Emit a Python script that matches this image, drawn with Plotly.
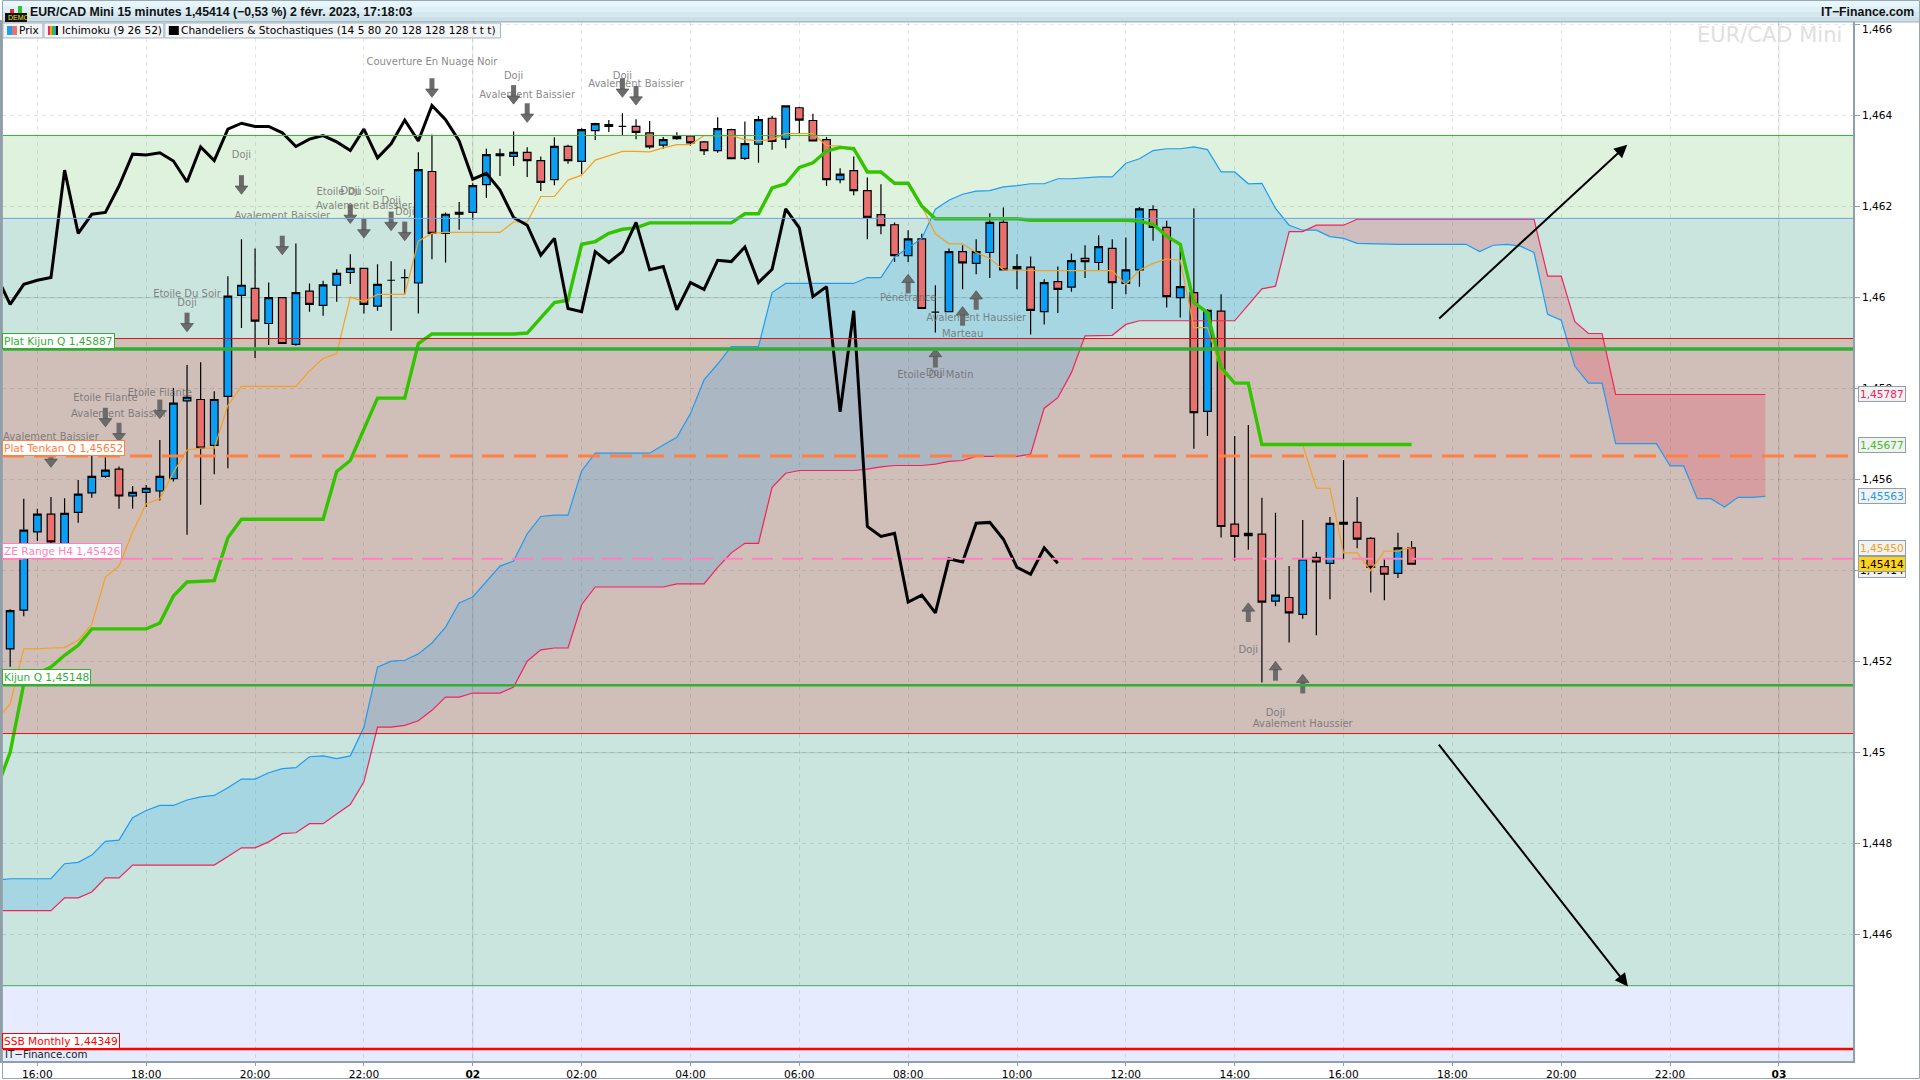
import pandas as pd
import plotly.graph_objects as go

# ---- bar clock: k = 0 is 1 Feb 16:00, one step = 15 minutes
start_time = pd.Timestamp("2023-02-01 16:00")
def t(k):
    return (start_time + pd.Timedelta(minutes=15 * k)).strftime("%Y-%m-%d %H:%M:%S")

# ---- candles, from 15:30 (k=-2) to 17:15 (k=101)
open_px = [1.45228,1.45313,1.45485,1.45524,1.45459,1.45528,1.45571,1.45607,1.45623,1.45564,1.45572,1.45575,1.45602,1.45773,1.45776,1.45675,
1.45783,1.46005,1.46020,1.45943,1.46000,1.45897,1.46014,1.45983,1.46027,1.46055,1.46064,1.45981,1.46038,1.46044,1.46032,1.46277,
1.46141,1.46183,1.46187,1.46248,1.46316,1.46310,1.46319,1.46301,1.46259,1.46332,1.46299,1.46367,1.46380,1.46376,1.46376,1.46362,
1.46335,1.46349,1.46355,1.46342,1.46323,1.46369,1.46306,1.46337,1.46394,1.46348,1.46417,1.46389,1.46347,1.46259,1.46279,1.46235,
1.46182,1.46160,1.46092,1.46129,1.45968,1.45969,1.46101,1.46075,1.46099,1.46165,1.46063,1.46067,1.45969,1.46035,1.46023,1.46086,
1.46077,1.46108,1.46031,1.46061,1.46193,1.46154,1.46000,1.46011,1.45750,1.45970,1.45502,1.45477,1.45480,1.45333,1.45341,1.45304,
1.45429,1.45416,1.45502,1.45506,1.45471,1.45409,1.45394,1.45450]
close_px = [1.45312,1.45489,1.45524,1.45463,1.45526,1.45568,1.45607,1.45621,1.45564,1.45572,1.45581,1.45607,1.45768,1.45781,1.45669,1.45776,
1.46003,1.46027,1.45948,1.46000,1.45899,1.46011,1.45985,1.46028,1.46053,1.46064,1.45985,1.46029,1.46038,1.46044,1.46281,1.46141,
1.46183,1.46187,1.46246,1.46314,1.46312,1.46319,1.46301,1.46253,1.46332,1.46301,1.46369,1.46382,1.46376,1.46376,1.46363,1.46331,
1.46347,1.46354,1.46340,1.46323,1.46371,1.46305,1.46338,1.46391,1.46343,1.46421,1.46390,1.46344,1.46259,1.46271,1.46235,1.46176,
1.46158,1.46092,1.46129,1.45976,1.45968,1.46101,1.46076,1.46101,1.46165,1.46061,1.46068,1.45972,1.46033,1.46018,1.46081,1.46079,
1.46112,1.46033,1.46061,1.46195,1.46154,1.46002,1.46024,1.45747,1.45972,1.45497,1.45475,1.45482,1.45331,1.45346,1.45307,1.45426,
1.45419,1.45504,1.45506,1.45469,1.45407,1.45392,1.45450,1.45414]
high_px = [1.45315,1.45558,1.45536,1.45562,1.45559,1.45599,1.45652,1.45649,1.45629,1.45586,1.45588,1.45687,1.45801,1.45852,1.45858,1.45794,
1.46047,1.46128,1.46108,1.46033,1.46000,1.46119,1.46031,1.46037,1.46062,1.46095,1.46064,1.46073,1.46080,1.46062,1.46319,1.46358,
1.46187,1.46210,1.46251,1.46327,1.46327,1.46365,1.46330,1.46310,1.46352,1.46336,1.46372,1.46384,1.46390,1.46405,1.46392,1.46388,
1.46353,1.46363,1.46357,1.46344,1.46396,1.46371,1.46387,1.46399,1.46399,1.46422,1.46419,1.46404,1.46353,1.46284,1.46310,1.46264,
1.46249,1.46165,1.46148,1.46140,1.46027,1.46108,1.46115,1.46128,1.46185,1.46198,1.46095,1.46090,1.46040,1.46068,1.46097,1.46115,
1.46137,1.46128,1.46132,1.46199,1.46203,1.46169,1.46110,1.46196,1.45975,1.46007,1.45696,1.45720,1.45560,1.45527,1.45410,1.45511,
1.45441,1.45518,1.45643,1.45562,1.45474,1.45426,1.45483,1.45465]
low_px = [1.45189,1.45300,1.45465,1.45455,1.45450,1.45505,1.45560,1.45604,1.45536,1.45536,1.45540,1.45554,1.45596,1.45479,1.45545,1.45612,
1.45625,1.45933,1.45867,1.45896,1.45899,1.45894,1.45969,1.45960,1.45991,1.46030,1.45965,1.45971,1.45927,1.46008,1.45965,1.46084,
1.46077,1.46149,1.46171,1.46219,1.46267,1.46289,1.46265,1.46234,1.46247,1.46294,1.46271,1.46346,1.46364,1.46357,1.46348,1.46327,
1.46327,1.46347,1.46334,1.46313,1.46318,1.46305,1.46302,1.46296,1.46325,1.46328,1.46361,1.46344,1.46245,1.46251,1.46225,1.46128,
1.46139,1.46078,1.46078,1.45976,1.45923,1.45969,1.46018,1.46051,1.46043,1.46061,1.46018,1.45919,1.45941,1.45966,1.46013,1.46043,
1.46059,1.45975,1.46007,1.46024,1.46125,1.45978,1.45956,1.45668,1.45696,1.45473,1.45422,1.45446,1.45154,1.45322,1.45242,1.45294,
1.45258,1.45337,1.45426,1.45449,1.45352,1.45335,1.45384,1.45413]

# ---- Ichimoku, all starting at k=-3
tenkan = [1.45072,1.45107,1.45228,1.45228,1.45230,1.45231,1.45247,1.45282,1.45386,1.45410,1.45485,1.45547,1.45558,1.45616,1.45665,1.45669,
1.45669,1.45763,1.45805,1.45805,1.45805,1.45805,1.45805,1.45839,1.45866,1.45877,1.46001,1.45991,1.46007,1.46007,1.46007,1.46124,
1.46141,1.46143,1.46143,1.46143,1.46143,1.46143,1.46166,1.46166,1.46222,1.46222,1.46258,1.46269,1.46302,1.46311,1.46321,1.46321,
1.46320,1.46329,1.46336,1.46336,1.46356,1.46356,1.46356,1.46347,1.46345,1.46347,1.46360,1.46360,1.46360,1.46334,1.46333,1.46327,
1.46278,1.46276,1.46251,1.46251,1.46201,1.46140,1.46118,1.46118,1.46099,1.46086,1.46061,1.46060,1.46059,1.46059,1.46059,1.46059,
1.46059,1.46059,1.46059,1.46029,1.46060,1.46075,1.46085,1.46082,1.45934,1.45934,1.45839,1.45812,1.45812,1.45677,1.45677,1.45677,
1.45677,1.45581,1.45581,1.45439,1.45439,1.45400,1.45443,1.45443,1.45451]
kijun = [1.44920,1.45001,1.45151,1.45174,1.45188,1.45214,1.45236,1.45272,1.45272,1.45272,1.45272,1.45272,1.45285,1.45344,1.45375,1.45377,
1.45378,1.45472,1.45513,1.45513,1.45513,1.45513,1.45513,1.45513,1.45513,1.45618,1.45642,1.45711,1.45779,1.45779,1.45779,1.45899,
1.45920,1.45920,1.45920,1.45920,1.45920,1.45920,1.45920,1.45922,1.45956,1.45989,1.45994,1.46117,1.46123,1.46141,1.46150,1.46153,
1.46164,1.46164,1.46164,1.46164,1.46164,1.46164,1.46164,1.46184,1.46184,1.46241,1.46250,1.46286,1.46296,1.46322,1.46330,1.46327,
1.46276,1.46276,1.46251,1.46251,1.46201,1.46173,1.46173,1.46173,1.46173,1.46173,1.46173,1.46173,1.46170,1.46170,1.46170,1.46170,
1.46170,1.46170,1.46170,1.46170,1.46168,1.46161,1.46135,1.46117,1.45989,1.45967,1.45846,1.45812,1.45812,1.45677,1.45677,1.45677,
1.45677,1.45677,1.45677,1.45677,1.45677,1.45677,1.45677,1.45677,1.45677]
chikou = [1.46048,1.45985,1.46029,1.46038,1.46044,1.46280,1.46141,1.46183,1.46187,1.46245,1.46315,1.46313,1.46318,1.46300,1.46254,1.46331,
1.46301,1.46370,1.46383,1.46376,1.46376,1.46362,1.46332,1.46348,1.46356,1.46342,1.46323,1.46370,1.46307,1.46338,1.46390,1.46344,
1.46422,1.46391,1.46344,1.46260,1.46273,1.46236,1.46176,1.46159,1.46093,1.46130,1.45976,1.45969,1.46101,1.46077,1.46101,1.46165,
1.46061,1.46068,1.45973,1.46033,1.46018,1.46082,1.46079,1.46111,1.46033,1.46062,1.46195,1.46153,1.46002,1.46024,1.45749,1.45971,
1.45497,1.45475,1.45482,1.45331,1.45346,1.45307,1.45426,1.45419,1.45504,1.45506,1.45469,1.45407,1.45392,1.45450,1.45416]
senkou_a = [1.44720,1.44723,1.44723,1.44723,1.44723,1.44756,1.44759,1.44775,1.44805,1.44808,1.44857,1.44873,1.44884,1.44884,1.44896,1.44903,
1.44906,1.44923,1.44942,1.44942,1.44956,1.44965,1.44967,1.44991,1.44993,1.44987,1.44993,1.45056,1.45188,1.45201,1.45203,1.45217,
1.45241,1.45276,1.45329,1.45342,1.45376,1.45410,1.45421,1.45481,1.45519,1.45522,1.45522,1.45619,1.45658,1.45658,1.45658,1.45658,
1.45658,1.45676,1.45693,1.45745,1.45819,1.45854,1.45892,1.45892,1.45892,1.46011,1.46031,1.46031,1.46031,1.46031,1.46031,1.46031,
1.46044,1.46044,1.46089,1.46110,1.46130,1.46194,1.46214,1.46227,1.46234,1.46235,1.46243,1.46246,1.46250,1.46250,1.46261,1.46261,
1.46263,1.46265,1.46265,1.46295,1.46305,1.46323,1.46327,1.46327,1.46331,1.46325,1.46276,1.46276,1.46250,1.46251,1.46196,1.46159,
1.46148,1.46148,1.46134,1.46130,1.46119,1.46118,1.46117,1.46117,1.46117,1.46117,1.46117,1.46117,1.46117,1.46101,1.46115,1.46117,
1.46113,1.46099,1.45963,1.45950,1.45849,1.45812,1.45812,1.45679,1.45679,1.45679,1.45679,1.45630,1.45630,1.45558,1.45558,1.45540,
1.45561,1.45561,1.45563]
senkou_b = [1.44653,1.44653,1.44653,1.44653,1.44653,1.44681,1.44681,1.44694,1.44725,1.44725,1.44753,1.44753,1.44753,1.44753,1.44753,1.44753,
1.44753,1.44772,1.44791,1.44791,1.44804,1.44822,1.44824,1.44844,1.44844,1.44865,1.44886,1.44936,1.45056,1.45056,1.45060,1.45070,
1.45093,1.45122,1.45122,1.45131,1.45131,1.45131,1.45144,1.45201,1.45226,1.45230,1.45230,1.45325,1.45364,1.45364,1.45364,1.45364,
1.45364,1.45364,1.45371,1.45371,1.45371,1.45407,1.45439,1.45460,1.45460,1.45583,1.45614,1.45620,1.45620,1.45620,1.45620,1.45620,
1.45623,1.45628,1.45631,1.45631,1.45631,1.45634,1.45640,1.45642,1.45651,1.45651,1.45651,1.45651,1.45656,1.45757,1.45780,1.45835,
1.45916,1.45917,1.45917,1.45941,1.45949,1.45949,1.45949,1.45949,1.45949,1.45949,1.45949,1.45949,1.45984,1.46019,1.46025,1.46145,
1.46145,1.46159,1.46159,1.46159,1.46172,1.46172,1.46172,1.46172,1.46172,1.46172,1.46172,1.46172,1.46172,1.46172,1.46172,1.46172,
1.46172,1.46172,1.46047,1.46047,1.45947,1.45921,1.45921,1.45787,1.45787,1.45787,1.45787,1.45787,1.45787,1.45787,1.45787,1.45787,
1.45787,1.45787,1.45787]
assert len(open_px) == len(close_px) == len(high_px) == len(low_px) == 104
assert len(tenkan) == len(kijun) == 105 and len(chikou) == 79
assert len(senkou_a) == len(senkou_b) == 131
kumo_turn_k = 93

# ---- levels
zone_edges = [1.46356, 1.46174, 1.45910, 1.45042, 1.44488, 1.44300]
zone_colors = ["#DFF2DE", "#C9E5DE", "#D0BFB9", "#C9E5DE", "#E6ECFE"]
level_values = [1.46356, 1.46174, 1.45910, 1.45042, 1.44488, 1.45887, 1.45652, 1.45426, 1.45148, 1.44349]
level_colors = ["#2FBB2F", "#6E9FEA", "#E01018", "#E01018", "#45A85A", "#33AE33", "#FF8040", "#FF80C0", "#33AE33", "#FF0000"]
level_widths = [1, 1, 1, 1, 1, 3.4, 3, 2, 2.5, 2.5]
level_dashes = ["solid", "solid", "solid", "solid", "solid", "solid", "22px,10px", "21px,9px", "solid", "solid"]

label_texts = ["Plat Kijun Q 1,45887", "Plat Tenkan Q 1,45652", "ZE Range H4 1,45426", "Kijun Q 1,45148", "SSB Monthly 1,44349"]
label_values = [1.45887, 1.45652, 1.45426, 1.45148, 1.44349]
label_colors = ["#33AE33", "#FF8040", "#FF80C0", "#33AE33", "#FF0000"]

tag_texts = ["1,45787", "1,45677", "1,45563", "1,45450", "1,45414"]
tag_values = [1.45787, 1.45677, 1.45563, 1.45450, 1.45414]
tag_colors = ["#F0245A", "#3CC31E", "#1E9CF0", "#F5A020", "#000000"]

# ---- candle pattern notes
note_texts = ["Couverture En Nuage Noir", "Doji", "Avalement Baissier", "Doji", "Avalement Baissier", "Doji", "Avalement Baissier",
              "Etoile Du Soir", "Doji", "Avalement Baissier", "Doji", "Doji", "Etoile Du Soir", "Doji", "Etoile Filante",
              "Avalement Baissier", "Etoile Filante", "Avalement Baissier", "Pénétrance", "Doji", "Etoile Du Matin", "Marteau",
              "Avalement Haussier", "Doji", "Doji", "Avalement Haussier"]
note_k = [29, 35, 36, 43, 44, 15, 18, 23, 23, 24, 26, 27, 11, 11, 5, 6, 9, 1, 64, 66, 66, 68, 69, 89, 91, 93]
note_values = [1.46516, 1.46486, 1.46444, 1.46486, 1.46468, 1.46311, 1.46177, 1.46230, 1.46233, 1.46199, 1.46210, 1.46187, 1.46006, 1.45987,
               1.45778, 1.45742, 1.45789, 1.45692, 1.45997, 1.45833, 1.45828, 1.45919, 1.45955, 1.45224, 1.45086, 1.45061]
down_k = [29, 35, 36, 43, 44, 15, 18, 23, 24, 26, 27, 11, 5, 6, 9, 1]
down_values = [1.46460, 1.46445, 1.46405, 1.46460, 1.46443, 1.46247, 1.46114, 1.46183, 1.46151, 1.46167, 1.46145, 1.45945, 1.45736, 1.45703, 1.45754, 1.45647]
up_k = [64, 66, 68, 69, 89, 91, 93]
up_values = [1.46031, 1.45868, 1.45960, 1.45995, 1.45309, 1.45180, 1.45152]
arrow_part_offset = 0.00008

# ---- trend arrows
arrow_start_k = [102.92, 102.92]
arrow_start_v = [1.45951, 1.45021]
arrow_end_k = [116.85, 116.9]
arrow_end_v = [1.46336, 1.44486]

# ---- axis labels
y_ticks = [1.466, 1.464, 1.462, 1.46, 1.458, 1.456, 1.454, 1.452, 1.45, 1.448, 1.446]
y_tick_text = ["", "1,464", "1,462", "1,46", "1,458", "1,456", "1,454", "1,452", "1,45", "1,448", "1,446"]
x_tick_k = [0, 8, 16, 24, 32, 40, 48, 56, 64, 72, 80, 88, 96, 104, 112, 120, 128]
x_tick_text = ["16:00", "18:00", "20:00", "22:00", "<b>02</b>", "02:00", "04:00", "06:00", "08:00", "10:00", "12:00",
               "14:00", "16:00", "18:00", "20:00", "22:00", "<b>03</b>"]
major_y = [1.46, 1.45]
major_x_k = [32, 128]

W, H = 1920.0, 1080.0
PLOT_R, PLOT_T, PLOT_B = 1853.0, 22.0, 1062.0
y_range = [1.443225, 1.466055]
x_range = [t(-2.6), t(133.45)]
def px(x): return x / W
def py(y): return 1 - y / H
FONT = "DejaVu Sans"

line_k = list(range(-3, 128))
kt = [t(k) for k in line_k]
kt_candle = kt[1:105]

fig = go.Figure()

# kumo fill (lower subplot, so candles sit on top)
cut = kumo_turn_k + 3
fig.add_trace(go.Scatter(x=kt[:cut + 1], y=senkou_b[:cut + 1], mode="lines", line=dict(width=0), hoverinfo="skip", xaxis="x", yaxis="y"))
fig.add_trace(go.Scatter(x=kt[:cut + 1], y=senkou_a[:cut + 1], mode="lines", line=dict(width=0), fill="tonexty",
                         fillcolor="rgba(30,156,240,0.2)", hoverinfo="skip", xaxis="x", yaxis="y"))
fig.add_trace(go.Scatter(x=kt[cut:], y=senkou_a[cut:], mode="lines", line=dict(width=0), hoverinfo="skip", xaxis="x", yaxis="y"))
fig.add_trace(go.Scatter(x=kt[cut:], y=senkou_b[cut:], mode="lines", line=dict(width=0), fill="tonexty",
                         fillcolor="rgba(240,30,60,0.2)", hoverinfo="skip", xaxis="x", yaxis="y"))

# kumo edges then candles and lines on the overlay subplot
fig.add_trace(go.Candlestick(x=kt_candle, open=open_px, high=high_px, low=low_px, close=close_px,
                             increasing=dict(fillcolor="#0A9EF5", line=dict(color="#000000", width=1.2)),
                             decreasing=dict(fillcolor="#E8706E", line=dict(color="#000000", width=1.2)),
                             whiskerwidth=0, xaxis="x", yaxis="y2", hoverinfo="skip"))
fig.add_trace(go.Scatter(x=kt, y=senkou_a, mode="lines", line=dict(color="#1E9CF0", width=1.2), xaxis="x", yaxis="y2", hoverinfo="skip"))
fig.add_trace(go.Scatter(x=kt, y=senkou_b, mode="lines", line=dict(color="#F0245A", width=1.2), xaxis="x", yaxis="y2", hoverinfo="skip"))
fig.add_trace(go.Scatter(x=kt[:105], y=tenkan, mode="lines", line=dict(color="#F5A020", width=1.2), xaxis="x", yaxis="y2", hoverinfo="skip"))
fig.add_trace(go.Scatter(x=kt[:105], y=kijun, mode="lines", line=dict(color="#33C400", width=3.4), xaxis="x", yaxis="y2", hoverinfo="skip"))
fig.add_trace(go.Scatter(x=kt[:79], y=chikou, mode="lines", line=dict(color="#000000", width=3), xaxis="x", yaxis="y2", hoverinfo="skip"))

# pattern notes and block arrows (stem plus head)
fig.add_trace(go.Scatter(x=[t(k) for k in note_k], y=note_values, mode="text", text=note_texts,
                         textfont=dict(family=FONT, size=10, color="rgba(105,105,105,0.8)"), xaxis="x", yaxis="y2", hoverinfo="skip"))
fig.add_trace(go.Scatter(x=[t(k) for k in down_k], y=[v + arrow_part_offset for v in down_values], mode="markers",
                         marker=dict(symbol="line-ns", size=9, line=dict(color="#6B6B6B", width=5)), xaxis="x", yaxis="y2", hoverinfo="skip"))
fig.add_trace(go.Scatter(x=[t(k) for k in down_k], y=[v - arrow_part_offset for v in down_values], mode="markers",
                         marker=dict(symbol="triangle-down", size=11, color="#6B6B6B", line=dict(color="#505050", width=0.7)), xaxis="x", yaxis="y2", hoverinfo="skip"))
fig.add_trace(go.Scatter(x=[t(k) for k in up_k], y=[v - arrow_part_offset for v in up_values], mode="markers",
                         marker=dict(symbol="line-ns", size=9, line=dict(color="#6B6B6B", width=5)), xaxis="x", yaxis="y2", hoverinfo="skip"))
fig.add_trace(go.Scatter(x=[t(k) for k in up_k], y=[v + arrow_part_offset for v in up_values], mode="markers",
                         marker=dict(symbol="triangle-up", size=11, color="#6B6B6B", line=dict(color="#505050", width=0.7)), xaxis="x", yaxis="y2", hoverinfo="skip"))

shapes = []
# zones
for i, c in enumerate(zone_colors):
    shapes.append(dict(type="rect", xref="paper", yref="y", x0=0, x1=px(PLOT_R), y0=zone_edges[i + 1], y1=zone_edges[i],
                       fillcolor=c, line=dict(width=0), layer="below"))
# solid major grid
for v in major_y:
    shapes.append(dict(type="line", xref="paper", yref="y", x0=0, x1=px(PLOT_R), y0=v, y1=v,
                       line=dict(color="rgba(0,0,0,0.10)", width=1.2), layer="between"))
for k in major_x_k:
    shapes.append(dict(type="line", xref="x", yref="paper", x0=t(k), x1=t(k), y0=py(PLOT_B), y1=py(PLOT_T),
                       line=dict(color="rgba(0,0,0,0.10)", width=1.2), layer="between"))
# levels
for v, c, w, d in zip(level_values, level_colors, level_widths, level_dashes):
    shapes.append(dict(type="line", xref="paper", yref="y", x0=0, x1=px(PLOT_R), y0=v, y1=v,
                       line=dict(color=c, width=w, dash=d), layer="above"))
# header bands
bands = ["#E6F6FC", "#DDF0F7", "#D4E7EF", "#CBDFE8"]
for i, c in enumerate(bands):
    shapes.append(dict(type="rect", xref="paper", yref="paper", x0=0, x1=1, y0=py(1 + (i + 1) * 5.2), y1=py(1 + i * 5.2),
                       fillcolor=c, line=dict(width=0), layer="above"))
shapes.append(dict(type="line", xref="paper", yref="paper", x0=0, x1=1, y0=py(22), y1=py(22), line=dict(color="#9AAAB4", width=1), layer="above"))
shapes.append(dict(type="rect", xref="paper", yref="paper", x0=px(0.5), x1=px(1919.5), y0=py(1079.5), y1=py(0.5), line=dict(color="#9AA6AE", width=1), layer="above"))
# legend row
for x0, x1 in [(1, 41), (42, 162), (163, 499)]:
    shapes.append(dict(type="rect", xref="paper", yref="paper", x0=px(x0), x1=px(x1), y0=py(38), y1=py(23),
                       fillcolor="#F3F5F7", line=dict(color="#A6B4BE", width=1), layer="above"))
swatches = [(5, 10, "#1E9CF0"), (10, 15, "#E8706E"), (46, 48, "#F0245A"), (48, 50, "#F5A020"), (50, 52, "#33C400"), (52, 54, "#1E9CF0"), (54, 56, "#000000"), (167, 177, "#000000")]
for x0, x1, c in swatches:
    shapes.append(dict(type="rect", xref="paper", yref="paper", x0=px(x0), x1=px(x1), y0=py(35), y1=py(26), fillcolor=c, line=dict(width=0), layer="above"))
# demo icon
shapes.append(dict(type="rect", xref="paper", yref="paper", x0=px(3), x1=px(25), y0=py(22), y1=py(13), fillcolor="#111111", line=dict(width=0), layer="above"))
shapes.append(dict(type="rect", xref="paper", yref="paper", x0=px(8), x1=px(12), y0=py(13), y1=py(9), fillcolor="#D83030", line=dict(width=0), layer="above"))
shapes.append(dict(type="rect", xref="paper", yref="paper", x0=px(16), x1=px(20), y0=py(13), y1=py(6), fillcolor="#30C030", line=dict(width=0), layer="above"))

ann = []
def text(x, y, s, size=10.6, color="#000000", family=FONT, anchor="left"):
    ann.append(dict(xref="paper", yref="paper", x=px(x), y=py(y), text=s, showarrow=False, xanchor=anchor, yanchor="middle",
                    font=dict(family=family, size=size, color=color)))

# level labels on the left
for s, v, c in zip(label_texts, label_values, label_colors):
    ann.append(dict(xref="paper", yref="y", x=0, y=v, text=s, showarrow=False, xanchor="left", yanchor="bottom", yshift=0,
                    font=dict(family=FONT, size=10.6, color=c), bgcolor="#FFFFFF", bordercolor=c, borderwidth=1, borderpad=1))
# price tags on the right
ann.append(dict(xref="paper", yref="y", x=px(1858), y=1.45414, yshift=-6, text="1,45414", showarrow=False, xanchor="left", yanchor="middle",
                font=dict(family=FONT, size=10.6, color="#000000"), bgcolor="#F2F2F2", bordercolor="#8FA0AA", borderwidth=1, borderpad=1))
for s, v, c in zip(tag_texts, tag_values, tag_colors):
    is_last = s == "1,45414"
    ann.append(dict(xref="paper", yref="y", x=px(1858), y=v, text=s, showarrow=False, xanchor="left", yanchor="middle",
                    font=dict(family=FONT, size=10.6, color=c), bgcolor="#FFD21E" if is_last else "#F2F2F2",
                    bordercolor="#8FA0AA", borderwidth=1, borderpad=1))
# trend arrows
for a, b, c, d in zip(arrow_start_k, arrow_start_v, arrow_end_k, arrow_end_v):
    ann.append(dict(xref="x", yref="y", axref="x", ayref="y", x=t(c), y=d, ax=t(a), ay=b, text="", showarrow=True,
                    arrowhead=2, arrowsize=1.3, arrowwidth=2, arrowcolor="#000000"))

text(26, 12, "EUR/CAD Mini 15 minutes 1,45414 (−0,53 %) 2 févr. 2023, 17:18:03", size=12.3, family="Liberation Sans", color="#111111")
ann[-1]["font"]["weight"] = "bold"
text(1916, 12, "<b>IT−Finance.com</b>", size=12.3, family="Liberation Sans", anchor="right", color="#111111")
text(15, 30, "Prix")
text(58, 30, "Ichimoku (9 26 52)")
text(177, 30, "Chandeliers &amp; Stochastiques (14 5 80 20 128 128 128 t t t)")
text(4, 18, "DEMO", size=7, color="#F5E020", family="Liberation Sans")
text(1844, 35, "EUR/CAD Mini", size=21, color="#E0E0E0", anchor="right")
text(1, 1055, "IT−Finance.com", size=10.3, color="#222222")
text(1860, 29, "1,466")

fig.update_layout(
    width=1920, height=1080, margin=dict(l=0, r=0, t=0, b=0), autosize=False,
    paper_bgcolor="#FFFFFF", plot_bgcolor="#FFFFFF", showlegend=False, boxgap=0.2,
    shapes=shapes, annotations=ann, hovermode=False,
    xaxis=dict(domain=[0, px(PLOT_R)], range=x_range, type="date", rangeslider=dict(visible=False),
               tickmode="array", tickvals=[t(k) for k in x_tick_k], ticktext=x_tick_text,
               showgrid=True, gridcolor="rgba(0,0,0,0.10)", griddash="4px,4px", gridwidth=1,
               ticks="outside", ticklen=3, tickcolor="#8FA0AA", showline=True, linecolor="#8F9FAB", linewidth=1.5, mirror=True,
               zeroline=False, tickfont=dict(family=FONT, size=10.6, color="#000000"), anchor="y"),
    yaxis=dict(domain=[py(PLOT_B), py(PLOT_T)], range=y_range, side="right", tickmode="array", tickvals=y_ticks, ticktext=y_tick_text,
               showgrid=True, gridcolor="rgba(0,0,0,0.10)", griddash="4px,4px", gridwidth=1,
               ticks="outside", ticklen=5, tickcolor="#8FA0AA", showline=True, linecolor="#8F9FAB", linewidth=1.5, mirror=True,
               zeroline=False, tickfont=dict(family=FONT, size=10.6, color="#000000"), anchor="x"),
    yaxis2=dict(domain=[py(PLOT_B), py(PLOT_T)], range=y_range, overlaying="y", side="right", visible=False, anchor="x"),
)

fig.write_html("out.html", config=dict(displayModeBar=False),
               post_script="document.body.style.margin='0';document.documentElement.style.overflow='hidden';")
